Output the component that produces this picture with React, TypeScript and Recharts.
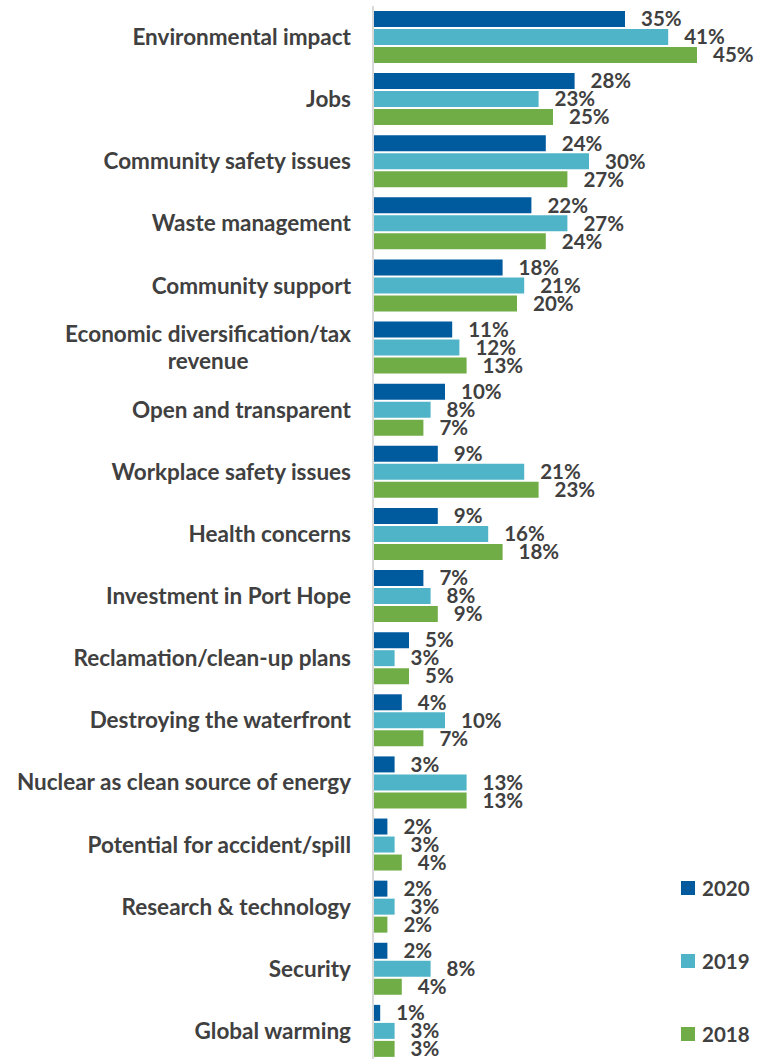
// Grouped horizontal bars: survey topics mentioned, 2020 vs 2019 vs 2018
import { BarChart, Bar, XAxis, YAxis, LabelList } from "recharts";

const categories = [
  "Environmental impact",
  "Jobs",
  "Community safety issues",
  "Waste management",
  "Community support",
  "Economic diversification/tax revenue",
  "Open and transparent",
  "Workplace safety issues",
  "Health concerns",
  "Investment in Port Hope",
  "Reclamation/clean-up plans",
  "Destroying the waterfront",
  "Nuclear as clean source of energy",
  "Potential for accident/spill",
  "Research & technology",
  "Security",
  "Global warming",
];

const y2020 = [35, 28, 24, 22, 18, 11, 10, 9, 9, 7, 5, 4, 3, 2, 2, 2, 1];
const y2019 = [41, 23, 30, 27, 21, 12, 8, 21, 16, 8, 3, 10, 13, 3, 3, 8, 3];
const y2018 = [45, 25, 27, 24, 20, 13, 7, 23, 18, 9, 5, 7, 13, 4, 2, 4, 3];

// where a category label breaks onto two lines
const labelLines: Record<string, string[]> = {
  "Economic diversification/tax revenue": ["Economic diversification/tax", "revenue"],
};

const data = categories.map((name, i) => ({
  name,
  y2020: y2020[i],
  y2019: y2019[i],
  y2018: y2018[i],
}));

const FONT = "Lato, sans-serif";
const TEXT = "#404040";
const C2020 = "#005a9e";
const C2019 = "#4fb4c8";
const C2018 = "#70ad47";
const TICK_SIZE = 22.5;

let ctx: CanvasRenderingContext2D | null = null;
const measure = (s: string) => {
  if (!ctx) ctx = document.createElement("canvas").getContext("2d");
  if (!ctx) return s.length * TICK_SIZE * 0.5;
  ctx.font = `700 ${TICK_SIZE}px Lato, sans-serif`;
  return ctx.measureText(s).width;
};

const CategoryTick = (props: any) => {
  const { x, y, payload } = props;
  const lines = labelLines[payload.value] || [payload.value];
  const lh = 27;
  const start = -((lines.length - 1) * lh) / 2;
  // wrapped labels are centred on their widest line, right edge at the axis
  const multi = lines.length > 1;
  const w = multi ? Math.max(...lines.map(measure)) : 0;
  const ax = multi ? x - w / 2 : x;
  return (
    <text
      x={ax}
      y={y}
      textAnchor={multi ? "middle" : "end"}
      fill={TEXT}
      fontFamily={FONT}
      fontWeight={700}
      fontSize={TICK_SIZE}
    >
      {lines.map((l, i) => (
        <tspan key={i} x={ax} dy={i === 0 ? start + 8 : lh}>
          {l}
        </tspan>
      ))}
    </text>
  );
};

const legendItems = [
  { label: "2020", color: C2020 },
  { label: "2019", color: C2019 },
  { label: "2018", color: C2018 },
];

const valueLabel = {
  position: "right" as const,
  offset: 16,
  fill: TEXT,
  fontFamily: FONT,
  fontWeight: 700,
  fontSize: 20.5,
  formatter: (v: number) => `${v}%`,
};

export default function App() {
  return (
    <div
      style={{
        position: "fixed",
        top: 0,
        left: 0,
        width: 763,
        height: 1059,
        overflow: "hidden",
        background: "#fff",
      }}
    >
      <BarChart
        layout="vertical"
        width={763}
        height={1062}
        data={data}
        margin={{ top: 6, right: 30, bottom: 0, left: 0 }}
        barSize={16}
        barGap={2}
      >
        <XAxis type="number" domain={[0, 50]} hide />
        <YAxis
          type="category"
          dataKey="name"
          width={373}
          interval={0}
          tickLine={false}
          tickSize={0}
          tickMargin={22}
          axisLine={{ stroke: "#d9d9d9", strokeWidth: 2 }}
          tick={<CategoryTick />}
        />
        <Bar dataKey="y2020" name="2020" fill={C2020} isAnimationActive={false}>
          <LabelList dataKey="y2020" {...valueLabel} />
        </Bar>
        <Bar dataKey="y2019" name="2019" fill={C2019} isAnimationActive={false}>
          <LabelList dataKey="y2019" {...valueLabel} />
        </Bar>
        <Bar dataKey="y2018" name="2018" fill={C2018} isAnimationActive={false}>
          <LabelList dataKey="y2018" {...valueLabel} />
        </Bar>
      </BarChart>
      <div
        style={{
          position: "absolute",
          left: 681,
          top: 851,
          fontFamily: FONT,
          fontWeight: 700,
          fontSize: 20.5,
          color: TEXT,
        }}
      >
        {legendItems.map((it) => (
          <div key={it.label} style={{ display: "flex", alignItems: "center", height: 73 }}>
            <span
              style={{
                display: "inline-block",
                width: 14,
                height: 14,
                background: it.color,
                marginRight: 7,
              }}
            />
            {it.label}
          </div>
        ))}
      </div>
    </div>
  );
}
